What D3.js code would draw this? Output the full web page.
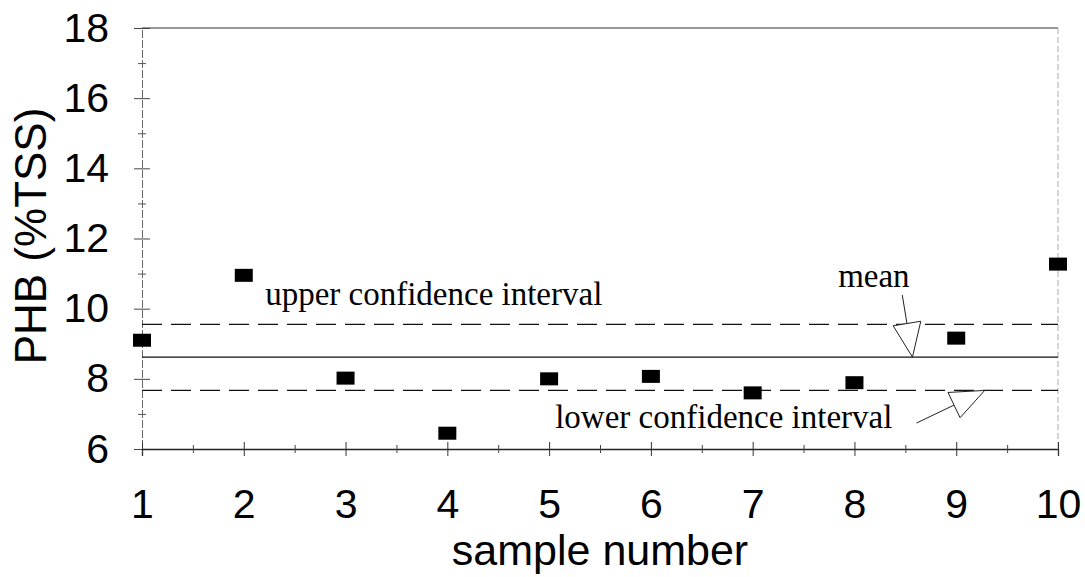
<!DOCTYPE html>
<html>
<head>
<meta charset="utf-8">
<title>PHB samples</title>
<script src="https://d3js.org/d3.v7.min.js"></script>
<style>
  body { margin: 0; background: #fff; }
  .tick text { font-family: "Liberation Sans", Arial, sans-serif; font-size: 41px; fill: #000; }
  .note { font-family: "Liberation Serif", "Times New Roman", serif; font-size: 33px; fill: #000; }
  .title { font-family: "Liberation Sans", Arial, sans-serif; font-size: 43px; fill: #000; }
</style>
</head>
<body>
<svg id="chart" width="1085" height="577"></svg>
<script>
// data
var samples = [1, 2, 3, 4, 5, 6, 7, 8, 9, 10];
var phb = [9.1, 10.95, 8.02, 6.45, 8.0, 8.07, 7.6, 7.89, 9.16, 11.27];
var meanValue = 8.62;
var upperCI = 9.55;
var lowerCI = 7.67;
var yTicks = [6, 8, 10, 12, 14, 16, 18];
var xTicks = [1, 2, 3, 4, 5, 6, 7, 8, 9, 10];

// notes: text and arrows, in data units
var notes = [
  {text: "upper confidence interval", x: 2.21, y: 10.1},
  {text: "lower confidence interval", x: 5.06, y: 6.6},
  {text: "mean", x: 7.84, y: 10.62}
];
var arrows = [
  {x0: 8.47, y0: 10.39, x1: 8.57, y1: 8.62},
  {x0: 8.61, y0: 6.74, x1: 9.28, y1: 7.67}
];

var plotLeft = 142, plotRight = 1058, plotTop = 28, plotBottom = 449;

var x = d3.scaleLinear().domain([1, 10]).range([plotLeft, plotRight]);
var y = d3.scaleLinear().domain([6, 18]).range([plotBottom, plotTop]);

var svg = d3.select("#chart");

// frame: top and right border
svg.append("line").attr("x1", plotLeft).attr("x2", plotRight).attr("y1", plotTop).attr("y2", plotTop)
  .attr("stroke", "#333").attr("stroke-width", 1.2);
svg.append("line").attr("x1", plotRight).attr("x2", plotRight).attr("y1", plotTop).attr("y2", plotBottom)
  .attr("stroke", "#aaa").attr("stroke-width", 1).attr("stroke-dasharray", "6,3");

// y axis
var yAxis = svg.append("g").attr("transform", "translate(" + plotLeft + ",0)")
  .call(d3.axisLeft(y).tickValues(yTicks).tickSize(8).tickPadding(25));
yAxis.select(".domain").attr("stroke", "#666").attr("stroke-dasharray", "8,2");
yAxis.selectAll(".tick line").attr("x1", 8).attr("x2", -8).attr("stroke", "#444");

var yMinor = svg.append("g").attr("transform", "translate(" + plotLeft + ",0)")
  .call(d3.axisLeft(y).tickValues(d3.range(7, 18, 2)).tickSize(4).tickFormat(""));
yMinor.select(".domain").remove();
yMinor.selectAll(".tick line").attr("x1", 4).attr("x2", -4).attr("stroke", "#555");

// x axis
var xAxis = svg.append("g").attr("transform", "translate(0," + plotBottom + ")")
  .call(d3.axisBottom(x).tickValues(xTicks).tickSize(7).tickPadding(33).tickFormat(d3.format("d")));
xAxis.select(".domain").attr("stroke", "#222").attr("stroke-width", 1.3);
xAxis.selectAll(".tick line").attr("y1", -7).attr("y2", 7).attr("stroke", "#333");

var xMinor = svg.append("g").attr("transform", "translate(0," + plotBottom + ")")
  .call(d3.axisBottom(x).tickValues(d3.range(1.5, 10, 1)).tickSize(4).tickFormat(""));
xMinor.select(".domain").remove();
xMinor.selectAll(".tick line").attr("y1", -4).attr("y2", 4).attr("stroke", "#444");

// reference lines
svg.append("line").attr("x1", plotLeft).attr("x2", plotRight)
  .attr("y1", y(meanValue)).attr("y2", y(meanValue))
  .attr("stroke", "#111").attr("stroke-width", 1.2);
[upperCI, lowerCI].forEach(function(v) {
  svg.append("line").attr("x1", plotLeft).attr("x2", plotRight)
    .attr("y1", y(v)).attr("y2", y(v))
    .attr("stroke", "#111").attr("stroke-width", 1.2)
    .attr("stroke-dasharray", "20,9");
});

// points
svg.selectAll(".pt")
  .data(samples)
  .enter().append("rect")
    .attr("class", "pt")
    .attr("x", function(d) { return x(d) - 9; })
    .attr("y", function(d, i) { return y(phb[i]) - 6.5; })
    .attr("width", 18)
    .attr("height", 13)
    .attr("fill", "#000");

// notes
svg.selectAll(".note")
  .data(notes)
  .enter().append("text")
    .attr("class", "note")
    .attr("x", function(d) { return x(d.x); })
    .attr("y", function(d) { return y(d.y); })
    .text(function(d) { return d.text; });

// arrows with open triangular heads
arrows.forEach(function(a) {
  var px0 = x(a.x0), py0 = y(a.y0), px1 = x(a.x1), py1 = y(a.y1);
  var dx = px1 - px0, dy = py1 - py0, len = Math.sqrt(dx * dx + dy * dy);
  var ux = dx / len, uy = dy / len;
  var headLen = 34, headHalf = 14;
  var bx = px1 - ux * headLen, by = py1 - uy * headLen;
  svg.append("line").attr("x1", px0).attr("y1", py0).attr("x2", bx).attr("y2", by)
    .attr("stroke", "#222").attr("stroke-width", 1);
  var pts = [[px1, py1], [bx - uy * headHalf, by + ux * headHalf], [bx + uy * headHalf, by - ux * headHalf]];
  svg.append("polygon").attr("points", pts.map(function(p) { return p.join(","); }).join(" "))
    .attr("fill", "#fff").attr("stroke", "#222").attr("stroke-width", 1);
});

// axis titles
svg.append("text").attr("class", "title")
  .attr("x", (plotLeft + plotRight) / 2).attr("y", 565)
  .attr("text-anchor", "middle")
  .text("sample number");
svg.append("text").attr("class", "title")
  .attr("transform", "translate(46,236) rotate(-90)")
  .attr("text-anchor", "middle")
  .style("font-size", "44px")
  .text("PHB (%TSS)");
</script>
</body>
</html>
